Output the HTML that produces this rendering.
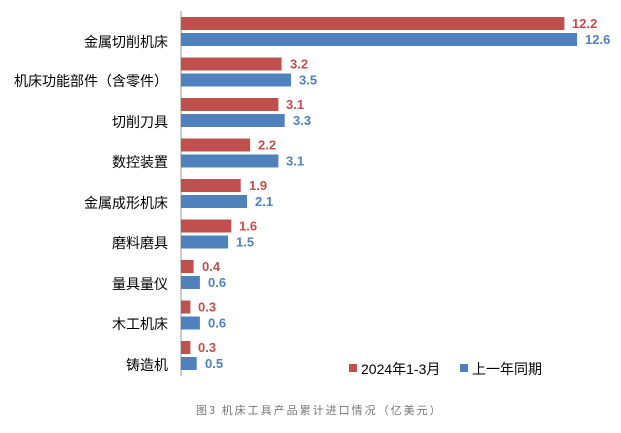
<!DOCTYPE html>
<html><head><meta charset="utf-8"><style>
body{margin:0;background:#fff;width:621px;height:433px;overflow:hidden}
svg{display:block}
.c{font-family:"Liberation Sans","Noto Sans CJK SC",sans-serif;font-size:14px;fill:#000}
.v{font-family:"Liberation Sans","Noto Sans CJK SC",sans-serif;font-size:13px;font-weight:bold}
.r{fill:#c0504d}.b{fill:#4f81bd}
</style></head><body>
<svg width="621" height="433" xmlns="http://www.w3.org/2000/svg">
<line x1="181" y1="11" x2="181" y2="376" stroke="#999" stroke-width="1"/>
<rect class="r" x="181" y="17" width="383.4" height="13"/><rect class="b" x="181" y="33" width="396" height="13"/>
<rect class="r" x="181" y="57.5" width="100.6" height="13"/><rect class="b" x="181" y="73.5" width="110" height="13"/>
<rect class="r" x="181" y="98" width="97.4" height="13"/><rect class="b" x="181" y="114" width="103.7" height="13"/>
<rect class="r" x="181" y="138.5" width="69.1" height="13"/><rect class="b" x="181" y="154.5" width="97.4" height="13"/>
<rect class="r" x="181" y="179" width="59.7" height="13"/><rect class="b" x="181" y="195" width="66" height="13"/>
<rect class="r" x="181" y="219.5" width="50.3" height="13"/><rect class="b" x="181" y="235.5" width="47.1" height="13"/>
<rect class="r" x="181" y="260" width="12.6" height="13"/><rect class="b" x="181" y="276" width="18.9" height="13"/>
<rect class="r" x="181" y="300.5" width="9.4" height="13"/><rect class="b" x="181" y="316.5" width="18.9" height="13"/>
<rect class="r" x="181" y="341" width="9.4" height="13"/><rect class="b" x="181" y="357" width="15.7" height="13"/>
<g class="v">
<text class="r" x="572" y="28">12.2</text><text class="b" x="585" y="44">12.6</text>
<text class="r" x="290" y="68.5">3.2</text><text class="b" x="299" y="84.5">3.5</text>
<text class="r" x="286" y="109">3.1</text><text class="b" x="293" y="125">3.3</text>
<text class="r" x="258" y="149.5">2.2</text><text class="b" x="286" y="165.5">3.1</text>
<text class="r" x="249" y="190">1.9</text><text class="b" x="255" y="206">2.1</text>
<text class="r" x="239" y="230.5">1.6</text><text class="b" x="236" y="246.5">1.5</text>
<text class="r" x="202" y="271">0.4</text><text class="b" x="208" y="287">0.6</text>
<text class="r" x="198" y="311.5">0.3</text><text class="b" x="208" y="327.5">0.6</text>
<text class="r" x="198" y="352">0.3</text><text class="b" x="205" y="368">0.5</text>
</g>
<g class="c" text-anchor="end">
<text x="168" y="47">金属切削机床</text>
<text x="168" y="86">机床功能部件（含零件）</text>
<text x="168" y="127">切削刀具</text>
<text x="168" y="167">数控装置</text>
<text x="168" y="208">金属成形机床</text>
<text x="168" y="248">磨料磨具</text>
<text x="168" y="289">量具量仪</text>
<text x="168" y="329">木工机床</text>
<text x="168" y="370">铸造机</text>
</g>
<rect x="349" y="364" width="8" height="8" fill="#c0504d"/>
<text class="c" x="361" y="374">2024年1-3月</text>
<rect x="460" y="364" width="8" height="8" fill="#4f81bd"/>
<text class="c" x="472" y="374">上一年同期</text>
<text x="196" y="414" font-family="'Noto Sans CJK SC',sans-serif" font-size="11" fill="#777" letter-spacing="2">图3 机床工具产品累计进口情况（亿美元）</text>
</svg>
</body></html>
